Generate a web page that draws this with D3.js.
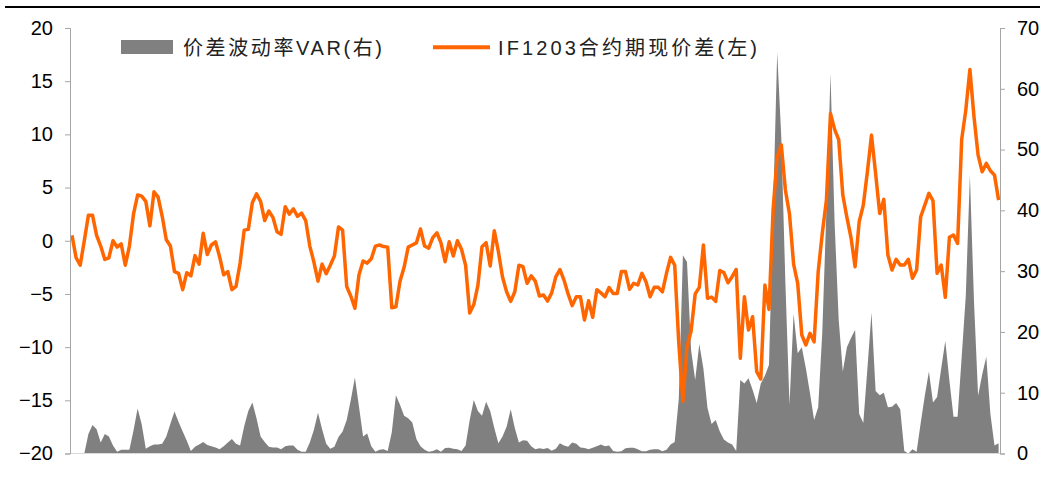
<!DOCTYPE html>
<html>
<head>
<meta charset="utf-8">
<script src="https://cdn.jsdelivr.net/npm/d3@7/dist/d3.min.js"></script>
<style>
  html, body { margin: 0; padding: 0; background: #fff; }
  svg { display: block; }
  .tick-label { font-family: "Liberation Sans", Arial, sans-serif; font-size: 20px; fill: #000; }
  .legend-label { font-family: "Liberation Sans", Arial, "Noto Sans CJK SC", sans-serif; font-size: 20px; fill: #222; }
</style>
</head>
<body>
<div id="chart"></div>
<script>
// IF1203 spread (left axis) and spread volatility VAR (right axis), one value per trading day
const spread = [
  0.5, -1.6, -2.3, 0.0, 2.4, 2.4, 0.5, -0.5, -1.75, -1.6,
  0.0, -0.6, -0.3, -2.3, -0.5, 2.5, 4.3, 4.2, 3.7, 1.4,
  4.6, 4.1, 2.3, 0.1, -0.5, -2.9, -3.06, -4.6, -3.0, -3.3,
  -1.4, -2.2, 0.7, -1.3, -0.4, -0.1, -1.5, -3.2, -2.9, -4.6,
  -4.3, -2.1, 1.0, 1.07, 3.6, 4.4, 3.7, 1.9, 2.8, 2.2,
  0.85, 0.6, 3.2, 2.5, 3.0, 2.3, 2.6, 1.9, -0.5, -2.0,
  -3.8, -2.2, -3.1, -2.3, -1.44, 1.3, 1.0, -4.3, -5.2, -6.35,
  -3.2, -1.9, -2.1, -1.7, -0.5, -0.4, -0.55, -0.6, -6.3, -6.2,
  -3.8, -2.5, -0.6, -0.4, -0.2, 1.1, -0.5, -0.7, 0.3, 0.75,
  -0.2, -1.97, -0.1, -1.44, 0.0, -0.8, -2.3, -6.8, -6.0, -4.2,
  -0.56, -0.18, -2.38, 0.94, -1.03, -3.4, -4.8, -5.7, -4.8, -2.3,
  -2.44, -4.0, -3.3, -3.8, -5.2, -5.1, -5.67, -4.9, -3.4, -2.7,
  -3.7, -5.0, -6.1, -5.26, -5.26, -7.45, -5.64, -7.2, -4.6, -4.9,
  -5.26, -4.4, -4.95, -4.95, -2.9, -2.9, -4.57, -4.0, -4.16, -3.06,
  -3.85, -5.26, -4.38, -4.38, -4.8, -3.06, -1.56, -2.3, -9.65, -15.1,
  -9.96, -8.5, -5.0, -4.38, -0.4, -5.4, -5.3, -5.7, -2.8, -3.0,
  -3.95, -3.38, -2.7, -11.05, -5.26, -8.4, -7.14, -12.3, -13.0, -4.16,
  -6.45, 2.9, 7.9, 9.0, 4.77, 2.5, -2.2, -4.0, -8.86, -9.8,
  -8.7, -9.5, -2.9, 0.7, 3.8, 11.97, 10.47, 9.5, 4.3, 2.2,
  0.3, -2.44, 1.79, 3.35, 6.48, 9.93, 6.33, 2.57, 3.89, -1.34,
  -2.75, -1.75, -2.28, -2.28, -1.75, -3.53, -2.75, 2.26, 3.35, 4.45,
  3.76, -3.06, -2.28, -5.32, 0.32, 0.54, -0.25, 9.53, 12.28, 16.1,
  11.65, 8.05, 6.48, 7.27, 6.58, 6.17, 3.82
];

const spreadVar = [
  0, 0, 0, 0, 3.2, 4.7, 4.0, 1.8, 3.2, 2.8,
  1.3, 0.3, 0.6, 0.6, 0.6, 3.8, 7.4, 4.8, 0.8, 1.2,
  1.5, 1.5, 1.6, 2.8, 4.9, 6.9, 5.2, 3.6, 2.1, 0.4,
  1.1, 1.5, 1.9, 1.4, 1.2, 1.0, 0.7, 1.2, 1.8, 2.4,
  1.6, 1.3, 4.5, 7.0, 8.4, 5.8, 2.8, 1.9, 1.1, 1.0,
  1.0, 0.7, 1.2, 1.3, 1.3, 0.6, 0.3, 0.3, 1.8, 3.9,
  6.7, 4.0, 1.6, 0.8, 1.1, 2.7, 3.6, 5.5, 8.8, 12.5,
  7.7, 2.8, 3.3, 1.2, 0.3, 0.6, 0.7, 0.4, 3.5, 9.6,
  8.0, 6.2, 5.8, 5.1, 2.4, 1.2, 0.6, 0.3, 0.4, 0.7,
  0.3, 0.9, 0.95, 0.8, 0.7, 0.4, 1.3, 5.5, 8.8, 7.0,
  6.2, 8.5, 7.0, 4.2, 1.7, 2.8, 4.4, 7.3, 4.2, 1.8,
  2.2, 2.1, 1.2, 0.7, 0.85, 0.75, 0.9, 0.45, 0.8, 1.7,
  1.3, 1.1, 1.8, 1.6, 1.0, 0.9, 0.7, 0.95, 1.2, 1.5,
  1.2, 1.3, 0.4, 0.3, 0.35, 0.85, 0.95, 0.95, 0.7, 0.35,
  0.35, 0.6, 0.7, 0.7, 0.35, 0.6, 1.5, 1.9, 9.0, 32.6,
  31.5, 17.0, 12.1, 18.0, 14.0, 7.5, 4.85, 5.5, 3.6, 2.3,
  1.8, 1.5, 0.4, 12.1, 11.5, 12.4, 10.5, 8.3, 11.5, 12.8,
  14.6, 40, 66, 52, 28, 8.0, 23.0, 16.5, 17.5, 14.0,
  9.9, 5.5, 7.6, 20, 40, 62.5, 38, 22, 13.5, 17.5,
  19, 20.3, 6.5, 5.0, 14, 23.2, 10.3, 9.6, 10.0, 7.6,
  7.7, 8.3, 7.3, 0.4, 0.0, 0.7, 0.3, 5.0, 9.5, 13.5,
  8.4, 9.3, 14.0, 18.5, 12.0, 6.05, 6.05, 15.9, 26, 45.8,
  25, 9.5, 13, 15.9, 6.5, 1.3, 1.7
];

const leftTicks = [-20, -15, -10, -5, 0, 5, 10, 15, 20];
const rightTicks = [0, 10, 20, 30, 40, 50, 60, 70];
const legendNames = ['价差波动率VAR(右)', 'IF1203合约期现价差(左)'];

const W = 1042, H = 479;
const axisL = 70, axisR = 1000, plotTop = 28, plotBottom = 453.5;
const orange = '#ff6600', gray = '#808080', axisColor = '#a6a6a6';

const svg = d3.select('#chart').append('svg')
  .attr('width', W)
  .attr('height', H);

svg.append('rect').attr('width', W).attr('height', H).attr('fill', '#fff');

// top rule
svg.append('line')
  .attr('x1', 5).attr('x2', 1040)
  .attr('y1', 7).attr('y2', 7)
  .attr('stroke', '#000').attr('stroke-width', 2.2);

const days = d3.range(spread.length);
const x = d3.scaleLinear().domain([0, days.length - 1]).range([72, 998.6]);
const yL = d3.scaleLinear().domain([-20, 20]).range([plotBottom, plotTop]);
const yR = d3.scaleLinear().domain([0, 70]).range([plotBottom, plotTop]);

// VAR area (right axis)
const area = d3.area()
  .x((d, i) => x(i))
  .y0(yR(0))
  .y1(d => yR(d));

svg.append('path')
  .datum(spreadVar)
  .attr('d', area)
  .attr('fill', gray);

// x baseline
svg.append('line')
  .attr('x1', axisL).attr('x2', axisR)
  .attr('y1', plotBottom).attr('y2', plotBottom)
  .attr('stroke', '#d9d9d9').attr('stroke-width', 1);

// spread line (left axis)
const line = d3.line()
  .x((d, i) => x(i))
  .y(d => yL(d));

svg.append('path')
  .datum(spread)
  .attr('d', line)
  .attr('fill', 'none')
  .attr('stroke', orange)
  .attr('stroke-width', 3.5)
  .attr('stroke-linejoin', 'round');

// left axis
const leftAxis = svg.append('g')
  .attr('transform', `translate(${axisL},0)`)
  .call(d3.axisLeft(yL).tickValues(leftTicks).tickSize(5).tickPadding(12).tickFormat(d3.format('d')));

// right axis
const rightAxis = svg.append('g')
  .attr('transform', `translate(${axisR},0)`)
  .call(d3.axisRight(yR).tickValues(rightTicks).tickSize(5).tickPadding(12).tickFormat(d3.format('d')));

[leftAxis, rightAxis].forEach(g => {
  g.attr('font-family', null).attr('font-size', null);
  g.select('.domain').attr('stroke', axisColor);
  g.selectAll('.tick line').attr('stroke', axisColor);
  g.selectAll('.tick text').attr('class', 'tick-label').attr('fill', null);
});

// legend
const legend = svg.append('g');
legend.append('rect')
  .attr('x', 121).attr('y', 40)
  .attr('width', 52).attr('height', 14)
  .attr('fill', gray);
legend.append('text')
  .attr('class', 'legend-label')
  .attr('x', 183).attr('y', 47.5)
  .attr('dy', '0.35em')
  .attr('textLength', 199)
  .attr('lengthAdjust', 'spacing')
  .text(legendNames[0]);

legend.append('line')
  .attr('x1', 433).attr('x2', 490)
  .attr('y1', 47.3).attr('y2', 47.3)
  .attr('stroke', orange).attr('stroke-width', 4);
legend.append('text')
  .attr('class', 'legend-label')
  .attr('x', 498).attr('y', 47.5)
  .attr('dy', '0.35em')
  .attr('textLength', 259)
  .attr('lengthAdjust', 'spacing')
  .text(legendNames[1]);
</script>
</body>
</html>
